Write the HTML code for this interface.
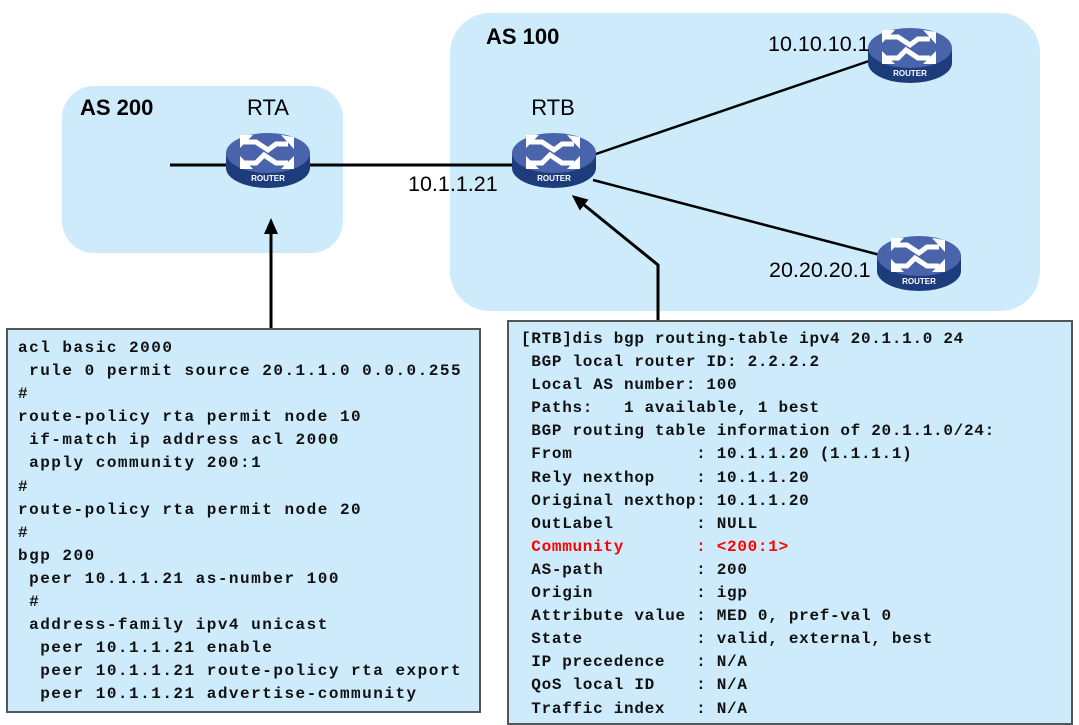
<!DOCTYPE html>
<html><head><meta charset="utf-8"><style>
body{margin:0;width:1079px;height:719px;overflow:hidden;background:#fff;position:relative;font-family:"Liberation Sans",sans-serif}
.code{position:absolute;background:#cdebfb;border:2px solid #555;box-sizing:border-box;font-family:"Liberation Mono",monospace;font-weight:bold;font-size:16px;white-space:pre;color:#111}
</style></head><body>
<svg width="1079" height="719" style="position:absolute;left:0;top:0">
<defs>
<g id="r">
<path d="M-42,0 L-42,15 A42,20 0 0 0 42,15 L42,0 Z" fill="#1d3c7c"/>
<ellipse cx="0" cy="0" rx="42" ry="20" fill="#4a64ab"/>
<g stroke="#fff" stroke-width="5" fill="none">
<path d="M-24,-11 L-12,-11 L0,-3 L8,-9 L20,-9"/>
<path d="M-24,10 L-12,10 L-4,2 L8,10 L20,10"/>
</g>
<path d="M-28,-18 L-15,-18 L-28,-5Z M26,-16 L13,-18 L26,-4Z M-28,16 L-28,3 L-15,16Z M26,16 L13,16 L26,3Z" fill="#fff"/>
<text x="0" y="28" font-family="Liberation Sans" font-weight="bold" font-size="8" fill="#fff" text-anchor="middle">ROUTER</text>
</g>
<marker id="a" markerWidth="16" markerHeight="14" refX="8" refY="7" orient="auto" markerUnits="userSpaceOnUse"><path d="M0,0 L16,7 L0,14Z" fill="#000"/></marker>
</defs>
<rect x="62" y="86" width="281" height="167" rx="32" fill="#cdebfb"/>
<rect x="450" y="13" width="590" height="298" rx="40" fill="#cdebfb"/>
<line x1="170" y1="165" x2="512" y2="165" stroke="#000" stroke-width="3"/>
<line x1="593" y1="155" x2="872" y2="60" stroke="#000" stroke-width="2.5"/>
<line x1="593" y1="180" x2="880" y2="255" stroke="#000" stroke-width="2.5"/>
<line x1="271" y1="328" x2="271" y2="226" stroke="#000" stroke-width="3" marker-end="url(#a)"/>
<polyline points="658,320 658,265 578,200" fill="none" stroke="#000" stroke-width="3" marker-end="url(#a)"/>
<use href="#r" x="268" y="153"/>
<use href="#r" x="554" y="153"/>
<use href="#r" x="910" y="48"/>
<use href="#r" x="919" y="256"/>
<g font-size="22" fill="#000">
<text x="80" y="115" font-weight="bold">AS 200</text>
<text x="486" y="44" font-weight="bold">AS 100</text>
<text x="268" y="115" text-anchor="middle">RTA</text>
<text x="553" y="115" text-anchor="middle">RTB</text>
</g>
<g font-size="21.5" fill="#000">
<text x="408" y="191">10.1.1.21</text>
<text x="768" y="51">10.10.10.1</text>
<text x="769" y="277">20.20.20.1</text>
</g>
</svg>
<div class="code" style="left:6px;top:328px;width:475px;height:385px;padding:7px 0 0 10px;line-height:23.1px;letter-spacing:1.5px">acl basic 2000
 rule 0 permit source 20.1.1.0 0.0.0.255
#
route-policy rta permit node 10
 if-match ip address acl 2000
 apply community 200:1
#
route-policy rta permit node 20
#
bgp 200
 peer 10.1.1.21 as-number 100
 #
 address-family ipv4 unicast
  peer 10.1.1.21 enable
  peer 10.1.1.21 route-policy rta export
  peer 10.1.1.21 advertise-community</div>
<div class="code" style="left:507px;top:320px;width:566px;height:405px;padding:6px 0 0 12px;line-height:23.1px;letter-spacing:0.7px">[RTB]dis bgp routing-table ipv4 20.1.1.0 24
 BGP local router ID: 2.2.2.2
 Local AS number: 100
 Paths:   1 available, 1 best
 BGP routing table information of 20.1.1.0/24:
 From            : 10.1.1.20 (1.1.1.1)
 Rely nexthop    : 10.1.1.20
 Original nexthop: 10.1.1.20
 OutLabel        : NULL
<span style="color:#f00"> Community       : &lt;200:1&gt;</span>
 AS-path         : 200
 Origin          : igp
 Attribute value : MED 0, pref-val 0
 State           : valid, external, best
 IP precedence   : N/A
 QoS local ID    : N/A
 Traffic index   : N/A</div>
</body></html>
